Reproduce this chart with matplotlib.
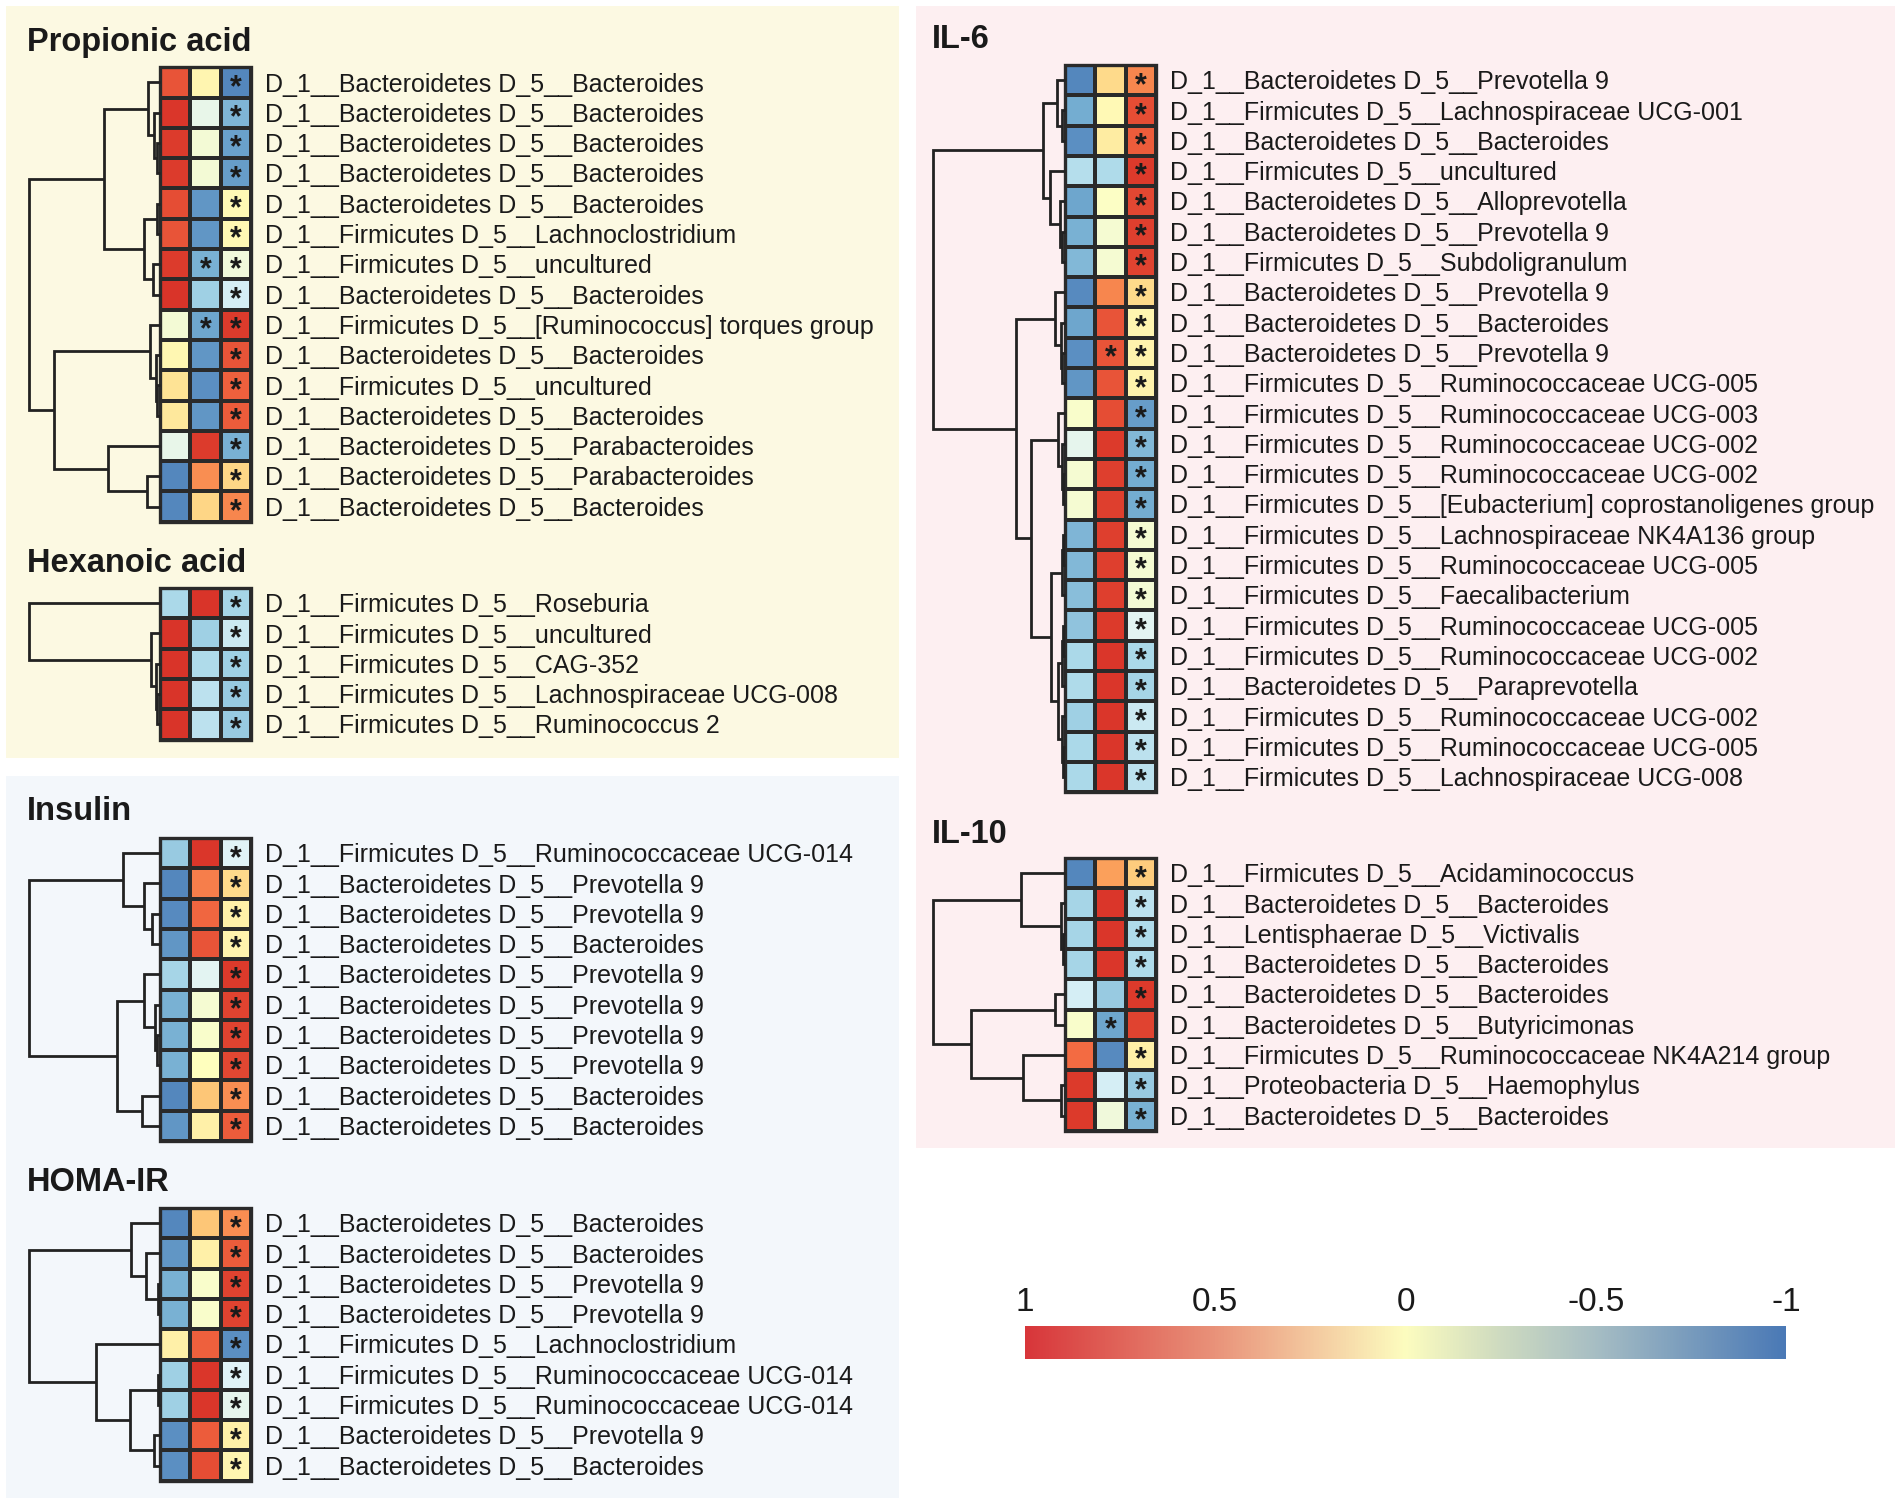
import matplotlib
matplotlib.use("Agg")
import matplotlib.pyplot as plt
import numpy as np
from matplotlib.colors import LinearSegmentedColormap
from matplotlib.patches import Rectangle

plt.rcParams['font.family'] = ['Liberation Sans', 'DejaVu Sans']

# ---------------- data ----------------
prop_phylum = ["Bacteroidetes"] * 5 + ["Firmicutes", "Firmicutes", "Bacteroidetes", "Firmicutes",
               "Bacteroidetes", "Firmicutes", "Bacteroidetes", "Bacteroidetes", "Bacteroidetes", "Bacteroidetes"]
prop_genus = ["Bacteroides"] * 5 + ["Lachnoclostridium", "uncultured", "Bacteroides",
              "[Ruminococcus] torques group", "Bacteroides", "uncultured", "Bacteroides",
              "Parabacteroides", "Parabacteroides", "Bacteroides"]
prop_values = [[0.85, 0.08, -0.92], [0.97, -0.18, -0.70], [0.95, -0.10, -0.80], [0.95, -0.10, -0.82],
               [0.88, -0.85, 0.05], [0.85, -0.85, 0.06], [0.95, -0.72, -0.12], [0.98, -0.55, -0.30],
               [-0.10, -0.78, 0.95], [0.07, -0.85, 0.85], [0.22, -0.88, 0.80], [0.18, -0.85, 0.82],
               [-0.18, 0.95, -0.72], [-0.92, 0.62, 0.30], [-0.92, 0.30, 0.65]]
prop_stars = ["001", "001", "001", "001", "001", "001", "011", "001", "011", "001",
              "001", "001", "001", "001", "001"]
prop_tree = (((0, (1, (2, 3, 0.02), 0.045), 0.09), ((4, 5, 0.02), (6, 7, 0.055), 0.12), 0.43),
             ((8, (9, (10, 11, 0.02), 0.03), 0.075), (12, (13, 14, 0.10), 0.40), 0.81), 1.0)

hex_phylum = ["Firmicutes"] * 5
hex_genus = ["Roseburia", "uncultured", "CAG-352", "Lachnospiraceae UCG-008", "Ruminococcus 2"]
hex_values = [[-0.50, 0.98, -0.52], [0.98, -0.55, -0.35], [0.98, -0.48, -0.55],
              [0.98, -0.42, -0.58], [0.98, -0.42, -0.58]]
hex_stars = ["001"] * 5
hex_tree = (0, (1, (2, (3, 4, 0.02), 0.03), 0.07), 1.0)

ins_phylum = ["Firmicutes"] + ["Bacteroidetes"] * 9
ins_genus = ["Ruminococcaceae UCG-014", "Prevotella 9", "Prevotella 9", "Bacteroides", "Prevotella 9",
             "Prevotella 9", "Prevotella 9", "Prevotella 9", "Bacteroides", "Bacteroides"]
ins_values = [[-0.58, 0.97, -0.25], [-0.92, 0.68, 0.28], [-0.90, 0.78, 0.12], [-0.85, 0.85, 0.10],
              [-0.52, -0.22, 0.96], [-0.72, -0.08, 0.92], [-0.72, -0.05, 0.92], [-0.72, 0.0, 0.90],
              [-0.92, 0.38, 0.62], [-0.85, 0.12, 0.82]]
ins_stars = ["001"] * 10
ins_tree = ((0, (1, (2, 3, 0.058), 0.125), 0.28), ((4, (5, (6, 7, 0.02), 0.038), 0.12), (8, 9, 0.14), 0.33), 1.0)

homa_phylum = ["Bacteroidetes"] * 4 + ["Firmicutes"] * 3 + ["Bacteroidetes"] * 2
homa_genus = ["Bacteroides", "Bacteroides", "Prevotella 9", "Prevotella 9", "Lachnoclostridium",
              "Ruminococcaceae UCG-014", "Ruminococcaceae UCG-014", "Prevotella 9", "Bacteroides"]
homa_values = [[-0.92, 0.38, 0.62], [-0.85, 0.12, 0.82], [-0.72, -0.05, 0.92], [-0.72, -0.05, 0.92],
               [0.12, 0.80, -0.88], [-0.55, 0.97, -0.25], [-0.55, 0.97, -0.20], [-0.88, 0.82, 0.12],
               [-0.88, 0.88, 0.08]]
homa_stars = ["001"] * 9
homa_tree = ((0, (1, (2, 3, 0.013), 0.106), 0.22), (4, ((5, 6, 0.018), (7, 8, 0.043), 0.23), 0.49), 1.0)

il6_phylum = ["Bacteroidetes", "Firmicutes", "Bacteroidetes", "Firmicutes", "Bacteroidetes", "Bacteroidetes",
              "Firmicutes", "Bacteroidetes", "Bacteroidetes", "Bacteroidetes", "Firmicutes", "Firmicutes",
              "Firmicutes", "Firmicutes", "Firmicutes", "Firmicutes", "Firmicutes", "Firmicutes",
              "Firmicutes", "Firmicutes", "Bacteroidetes", "Firmicutes", "Firmicutes", "Firmicutes"]
il6_genus = ["Prevotella 9", "Lachnospiraceae UCG-001", "Bacteroides", "uncultured", "Alloprevotella",
             "Prevotella 9", "Subdoligranulum", "Prevotella 9", "Bacteroides", "Prevotella 9",
             "Ruminococcaceae UCG-005", "Ruminococcaceae UCG-003", "Ruminococcaceae UCG-002",
             "Ruminococcaceae UCG-002", "[Eubacterium] coprostanoligenes group", "Lachnospiraceae NK4A136 group",
             "Ruminococcaceae UCG-005", "Faecalibacterium", "Ruminococcaceae UCG-005", "Ruminococcaceae UCG-002",
             "Paraprevotella", "Ruminococcaceae UCG-002", "Ruminococcaceae UCG-005", "Lachnospiraceae UCG-008"]
il6_values = [[-0.92, 0.28, 0.65], [-0.75, 0.05, 0.88], [-0.88, 0.15, 0.82], [-0.45, -0.48, 0.96],
              [-0.78, -0.03, 0.90], [-0.72, -0.08, 0.93], [-0.68, -0.08, 0.92], [-0.90, 0.65, 0.28],
              [-0.78, 0.85, 0.08], [-0.88, 0.85, 0.10], [-0.85, 0.85, 0.10], [-0.05, 0.88, -0.82],
              [-0.20, 0.96, -0.68], [-0.08, 0.93, -0.75], [-0.08, 0.93, -0.75], [-0.70, 0.93, -0.08],
              [-0.68, 0.93, -0.08], [-0.65, 0.93, -0.10], [-0.62, 0.96, -0.22], [-0.50, 0.97, -0.50],
              [-0.48, 0.97, -0.52], [-0.55, 0.97, -0.35], [-0.50, 0.97, -0.42], [-0.50, 0.97, -0.42]]
il6_stars = ["001"] * 9 + ["011"] + ["001"] * 14
il6_tree = (((0, (1, 2, 0.025), 0.063), (3, (4, (5, 6, 0.02), 0.038), 0.114), 0.17),
            ((7, (8, (9, 10, 0.02), 0.03), 0.076),
             ((11, (12, (13, 14, 0.015), 0.025), 0.056),
              (((15, 16, 0.015), 17, 0.025),
               (((18, 19, 0.015), 20, 0.025), (21, (22, 23, 0.015), 0.025), 0.05), 0.106), 0.26), 0.37), 1.0)

il10_phylum = ["Firmicutes", "Bacteroidetes", "Lentisphaerae", "Bacteroidetes", "Bacteroidetes",
               "Bacteroidetes", "Firmicutes", "Proteobacteria", "Bacteroidetes"]
il10_genus = ["Acidaminococcus", "Bacteroides", "Victivalis", "Bacteroides", "Bacteroides",
              "Butyricimonas", "Ruminococcaceae NK4A214 group", "Haemophylus", "Bacteroides"]
il10_values = [[-0.92, 0.55, 0.35], [-0.52, 0.97, -0.42], [-0.52, 0.97, -0.48], [-0.52, 0.97, -0.48],
               [-0.30, -0.58, 0.96], [-0.05, -0.78, 0.92], [0.75, -0.90, 0.12], [0.96, -0.30, -0.58],
               [0.96, -0.12, -0.72]]
il10_stars = ["001", "001", "001", "001", "001", "010", "001", "001", "001"]
il10_tree = ((0, (1, (2, 3, 0.015), 0.03), 0.33), ((4, 5, 0.076), (6, (7, 8, 0.03), 0.32), 0.71), 1.0)

cbar_ticks = [1, 0.5, 0, -0.5, -1]
cbar_ticklabels = ["1", "0.5", "0", "-0.5", "-1"]

# ---------------- styling ----------------
W, H = 1902, 1504
fig = plt.figure(figsize=(W / 100, H / 100), dpi=100)
fig.patch.set_facecolor("white")

heat_cmap = LinearSegmentedColormap.from_list(
    "heat", ["#4575b4", "#74add1", "#abd9e9", "#e0f3f8", "#ffffbf", "#fee090", "#fdae61", "#f46d43", "#d73027"])
cbar_cmap = LinearSegmentedColormap.from_list(
    "cb", [(0.0, "#4a79b6"), (0.25, "#a7bec4"), (0.38, "#d0dcc0"), (0.5, "#fdfdbf"),
           (0.62, "#f4caa0"), (0.75, "#e9937a"), (1.0, "#d8363a")])

LINE = "#222222"
CELL = 30.3


def rect(x0, y0, x1, y1):
    return [x0 / W, 1 - y1 / H, (x1 - x0) / W, (y1 - y0) / H]


# background boxes
bg = fig.add_axes([0, 0, 1, 1])
bg.set_xlim(0, W)
bg.set_ylim(H, 0)
bg.axis("off")
for (x0, y0, x1, y1, c) in [(6, 6, 899, 758, "#fcf9e2"), (6, 776, 899, 1498, "#f3f7fb"),
                            (916, 6, 1895, 1148, "#fdeff1")]:
    bg.add_patch(Rectangle((x0, y0), x1 - x0, y1 - y0, facecolor=c, edgecolor="none"))


def draw_tree(ax, node):
    if isinstance(node, int):
        return node + 0.5, 0.0
    a, b, h = node
    ya, ha = draw_tree(ax, a)
    yb, hb = draw_tree(ax, b)
    ax.plot([ha, h, h, hb], [ya, ya, yb, yb], color=LINE, lw=2.0,
            solid_joinstyle="miter", solid_capstyle="butt", clip_on=False)
    return (ya + yb) / 2, h


def panel(title, title_xy, dend_x, heat_x, heat_top, phylum, genus, values, stars, tree):
    vals = np.array(values)
    n = vals.shape[0]
    y1 = heat_top + n * CELL
    fig.text(title_xy[0] / W, 1 - (title_xy[1] + 3.5) / H, title, fontsize=23.5, fontweight="bold",
             ha="left", va="center", color="#1a1a1a")
    ax = fig.add_axes(rect(heat_x, heat_top, heat_x + 3 * CELL, y1))
    ax.pcolormesh(vals, cmap=heat_cmap, vmin=-1, vmax=1, edgecolors="#2a2a2a", linewidth=1.6)
    ax.set_xlim(0, 3)
    ax.set_ylim(n, 0)
    ax.axis("off")
    ax.add_patch(Rectangle((0, 0), 3, n, fill=False, lw=2.4, edgecolor="#2a2a2a", clip_on=False))
    for r in range(n):
        for c in range(3):
            if stars[r][c] == "1":
                ax.text(c + 0.5, r + 0.95, "*", ha="center", va="baseline", fontsize=22,
                        fontweight="bold", color="#1a1a1a")
        ax.text(3 + 14 / CELL, r + 0.5 + 0.3, f"D_1__{phylum[r]} D_5__{genus[r]}", ha="left",
                va="baseline", fontsize=18, color="#1a1a1a", clip_on=False)
    dax = fig.add_axes(rect(dend_x, heat_top, heat_x, y1))
    dax.set_xlim(1.0, 0.0)
    dax.set_ylim(n, 0)
    dax.axis("off")
    draw_tree(dax, tree)


panel("Propionic acid", (27, 39), 29, 160, 67.3, prop_phylum, prop_genus, prop_values, prop_stars, prop_tree)
panel("Hexanoic acid", (27, 560), 29, 160, 588, hex_phylum, hex_genus, hex_values, hex_stars, hex_tree)
panel("Insulin", (27, 808), 29, 160, 838, ins_phylum, ins_genus, ins_values, ins_stars, ins_tree)
panel("HOMA-IR", (27, 1179), 29, 160, 1208, homa_phylum, homa_genus, homa_values, homa_stars, homa_tree)
panel("IL-6", (932, 36), 933, 1065, 65, il6_phylum, il6_genus, il6_values, il6_stars, il6_tree)
panel("IL-10", (932, 831), 933, 1065, 858, il10_phylum, il10_genus, il10_values, il10_stars, il10_tree)

# colorbar
cax = fig.add_axes(rect(1025, 1326, 1786, 1359))
grad = np.linspace(-1, 1, 512)[None, :]
cax.imshow(grad, cmap=cbar_cmap, vmin=-1, vmax=1, aspect="auto", extent=(-1, 1, 0, 1))
cax.set_xlim(1, -1)
cax.set_ylim(0, 1)
cax.xaxis.tick_top()
cax.set_xticks(cbar_ticks)
cax.set_xticklabels(cbar_ticklabels, fontsize=24, color="#1a1a1a")
cax.tick_params(axis="x", length=0, pad=6)
cax.set_yticks([])
for s in cax.spines.values():
    s.set_visible(False)

fig.savefig("out.png", dpi=100, facecolor="white")
